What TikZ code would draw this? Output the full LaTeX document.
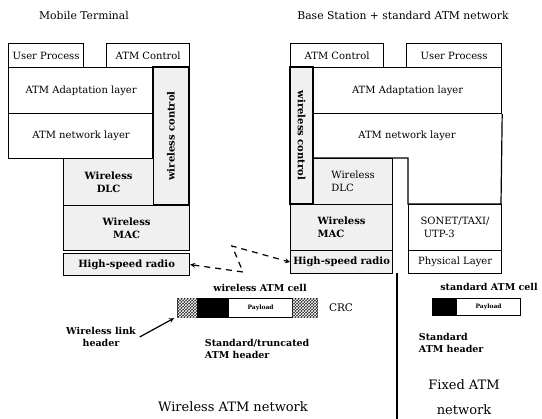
\documentclass[tikz,border=0pt]{standalone}
\usepackage{fontspec}
\setmainfont{DejaVu Serif}
\usetikzlibrary{patterns}

\tikzset{
    layer/.style={draw, anchor=north west, inner sep=1pt, align=center,
        font=\fontsize{10}{13}\selectfont},
    wless/.style={layer, fill=black!6, font=\fontsize{10}{13}\selectfont\bfseries},
    vlabel/.style={font=\fontsize{10}{13}\selectfont\bfseries, inner sep=1pt},
    cellpart/.style={draw, anchor=north west, inner sep=0pt},
    hatched/.style={fill=black!85, postaction={pattern=crosshatch, pattern color=white}},
    lbl/.style={font=\fontsize{9.5}{12}\selectfont\bfseries},
    title/.style={font=\fontsize{10.8}{13}\selectfont},
    big/.style={font=\fontsize{13}{15}\selectfont},
    >=stealth
}

\begin{document}
\begin{tikzpicture}[x=1pt, y=-1pt, line width=1.2pt]

    \useasboundingbox (0,0) rectangle (542,419);

    % Titles
    \node[title] (mtitle) at (84,15) {Mobile Terminal};
    \node[title] (btitle) at (403,15) {Base Station + standard ATM network};

    % Mobile terminal stack
    \node[layer, minimum width=75, minimum height=24] (lup) at (8,43) {User Process};
    \node[layer, minimum width=83, minimum height=24] (lctl) at (106,43) {ATM Control};
    \node[layer, minimum width=145, minimum height=46] (laal) at (8,67) {ATM Adaptation layer};
    \node[layer, minimum width=145, minimum height=45] (lnet) at (8,113) {ATM network layer};
    \draw[fill=black!6] (153,67) rectangle (189,205);
    \node[vlabel, rotate=90] (lwc) at (171,136) {wireless control};
    \node[wless, minimum width=90, minimum height=47] (ldlc) at (63,158) {Wireless\\DLC};
    \node[wless, minimum width=126, minimum height=45] (lmac) at (63,205) {Wireless\\MAC};
    \node[wless, minimum width=126, minimum height=22] (lrad) at (63,253) {High-speed radio};

    % Base station stack
    \node[layer, minimum width=93, minimum height=24] (rctl) at (290,43) {ATM Control};
    \node[layer, minimum width=95, minimum height=24] (rup) at (406,43) {User Process};
    \node[layer, minimum width=188, minimum height=46] (raal) at (313,67) {ATM Adaptation layer};
    \draw[fill=black!6] (290,67) rectangle (313,204);
    \node[vlabel, rotate=-90] (rwc) at (301.5,135.5) {wireless control};
    \draw (raal.south east) -- (501,204) -- (408,204) -- (408,158) -- (313,158);
    \node[font=\fontsize{10}{13}\selectfont] (rnet) at (407,135.5) {ATM network layer};
    \node[layer, fill=black!6, align=left, minimum width=79, minimum height=46] (rdlc) at (313,158) {Wireless\\DLC};
    \node[wless, align=left, minimum width=102, minimum height=46] (rmac) at (290,204) {Wireless\\MAC};
    \node[wless, minimum width=102, minimum height=23] (rrad) at (290,250) {High-speed radio};
    \node[layer, align=left, minimum width=93, minimum height=46] (rson) at (408,204) {SONET/TAXI/\\\ UTP-3};
    \node[layer, minimum width=93, minimum height=23] (rphy) at (408,250) {Physical Layer};

    % Radio link
    \coordinate (zz1) at (243,272);
    \coordinate (zz2) at (232,246);
    \draw[<->, dash pattern=on 6pt off 5pt] (lrad.east) -- (zz1) -- (zz2) -- (rrad.west);

    % Wireless ATM cell
    \node[lbl] (wcell) at (260,288) {wireless ATM cell};
    \node[cellpart, hatched, minimum width=20, minimum height=19] (wlh) at (177,298) {};
    \node[cellpart, fill=black, minimum width=31, minimum height=19] (whdr) at (197,298) {};
    \node[cellpart, minimum width=64, minimum height=19, font=\fontsize{6}{7}\selectfont\bfseries] (wpay) at (228,298) {Payload};
    \node[cellpart, hatched, minimum width=25, minimum height=19] (wcrc) at (292,298) {};
    \node[font=\fontsize{10.5}{12}\selectfont] (crc) at (341,308) {CRC};
    \node[lbl, align=center] (wlink) at (101,337) {Wireless link\\header};
    \draw[->] (wlink.east) -- ([xshift=-3pt]wlh.south west);
    \node[lbl, align=left, anchor=west] (whlbl) at (201,349) {Standard/truncated\\ATM header};

    % Standard ATM cell
    \node[lbl] (scell) at (489,287) {standard ATM cell};
    \node[cellpart, fill=black, minimum width=24, minimum height=17] (shdr) at (432,298) {};
    \node[cellpart, minimum width=64, minimum height=17, font=\fontsize{6}{7}\selectfont\bfseries] (spay) at (456,298) {Payload};
    \node[lbl, align=left, anchor=west] (shlbl) at (415,343) {Standard\\ATM header};

    % Network boundary
    \coordinate (septop) at (397,273);
    \draw (septop) -- (397,419);
    \node[big] (wnet) at (233,407) {Wireless ATM network};
    \node[big, align=center, font=\fontsize{13}{25}\selectfont] (fnet) at (464,397) {Fixed ATM\\network};

\end{tikzpicture}
\end{document}
